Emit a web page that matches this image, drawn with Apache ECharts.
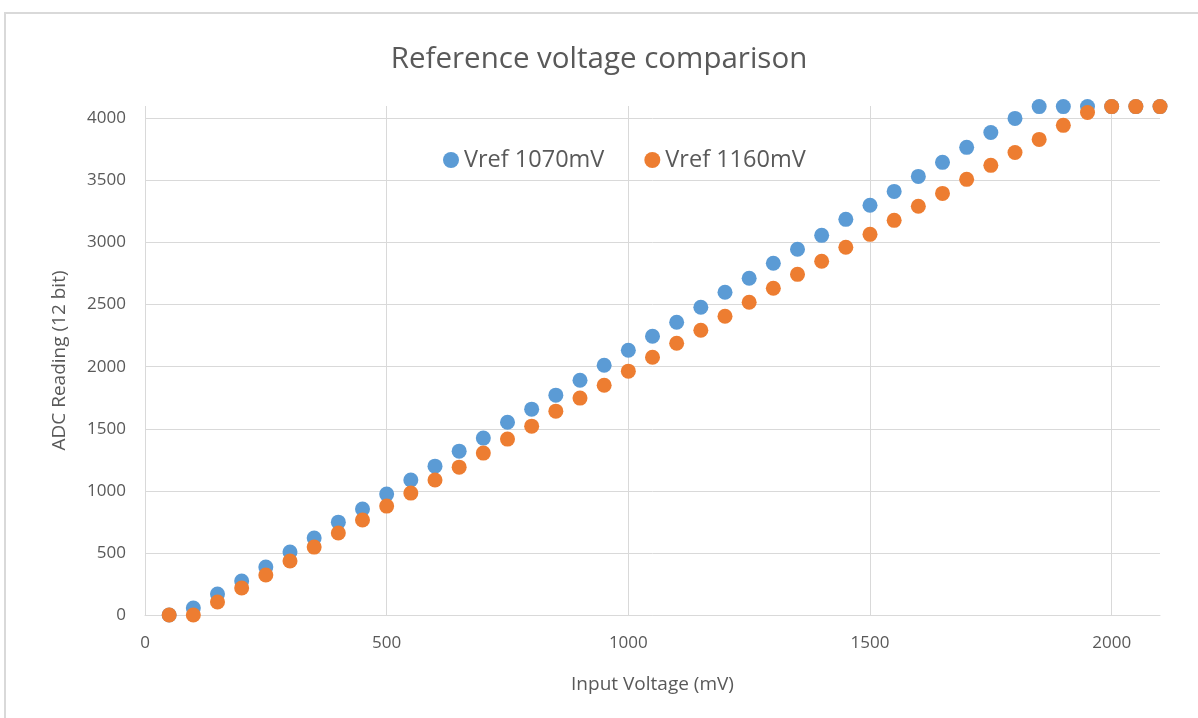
<!DOCTYPE html>
<html>
<head>
<meta charset="utf-8">
<script src="https://cdn.jsdelivr.net/npm/echarts@6/dist/echarts.min.js"></script>
<style>
html,body{margin:0;padding:0;background:#fff;}
#frame{position:absolute;left:4px;top:12px;width:1200px;height:720px;border:2px solid #d9d9d9;box-sizing:border-box;}
#c{position:absolute;left:0;top:0;width:1198px;height:718px;}
</style>
</head>
<body>
<div id="frame"></div>
<div id="c"></div>
<script>
const inputVoltage = [50,100,150,200,250,300,350,400,450,500,550,600,650,700,750,800,850,900,950,1000,1050,1100,1150,1200,1250,1300,1350,1400,1450,1500,1550,1600,1650,1700,1750,1800,1850,1900,1950,2000,2050,2100];
const vref1070 = [0,56,169,274,386,507,620,748,853,974,1087,1199,1320,1425,1553,1658,1771,1891,2012,2133,2245,2358,2479,2600,2712,2833,2946,3058,3187,3300,3412,3533,3646,3767,3887,4000,4095,4095,4095,4095,4095,4095];
const vref1160 = [0,0,105,217,322,435,547,660,765,877,982,1087,1191,1304,1417,1521,1642,1747,1851,1964,2076,2189,2294,2406,2519,2632,2744,2849,2962,3066,3179,3292,3396,3509,3622,3726,3831,3944,4048,4095,4095,4095];
const seriesNames = ['Vref 1070mV','Vref 1160mV'];

const chart = echarts.init(document.getElementById('c'));
const txt = '#595959';
const font = "'Open Sans', 'Liberation Sans', sans-serif";
const grid10 = Array(9).fill('#d9d9d9').concat(['transparent']);
const gridX = Array(5).fill('#d9d9d9').concat(['transparent']);
chart.setOption({
  animation:false,
  title:{text:'Reference voltage comparison',left:'center',top:40,
    textStyle:{color:txt,fontSize:29.5,fontWeight:'normal',fontFamily:font}},
  legend:{data:seriesNames,left:438,top:143,itemWidth:16,itemHeight:16,itemGap:40,
    textStyle:{color:txt,fontSize:23.5,fontFamily:font}},
  grid:{left:145,right:38,top:106,bottom:103,containLabel:false},
  xAxis:{type:'value',min:0,max:2100,interval:500,
    name:'Input Voltage (mV)',nameLocation:'middle',nameGap:60,
    nameTextStyle:{color:txt,fontSize:19,fontFamily:font},
    axisLine:{show:true,lineStyle:{color:'#d9d9d9',width:1}},
    axisTick:{show:false},
    axisLabel:{color:txt,fontSize:17,fontFamily:font,margin:20,showMaxLabel:false,formatter:v=>String(v)},
    splitLine:{show:true,lineStyle:{color:gridX,width:1}}},
  yAxis:{type:'value',min:0,max:4100,interval:500,
    name:'ADC Reading (12 bit)',nameLocation:'middle',nameGap:76,
    nameTextStyle:{color:txt,fontSize:19,fontFamily:font},
    axisLine:{show:false},
    axisTick:{show:false},
    axisLabel:{color:txt,fontSize:17,fontFamily:font,margin:19,showMaxLabel:false,formatter:v=>String(v)},
    splitLine:{show:true,lineStyle:{color:grid10,width:1}}},
  series:[
    {name:seriesNames[0],type:'scatter',symbolSize:15,clip:false,
      itemStyle:{color:'#5B9BD5',opacity:1},
      data:inputVoltage.map((v,i)=>[v,vref1070[i]])},
    {name:seriesNames[1],type:'scatter',symbolSize:15,clip:false,
      itemStyle:{color:'#ED7D31',opacity:1},
      data:inputVoltage.map((v,i)=>[v,vref1160[i]])}
  ]
});
</script>
</body>
</html>
